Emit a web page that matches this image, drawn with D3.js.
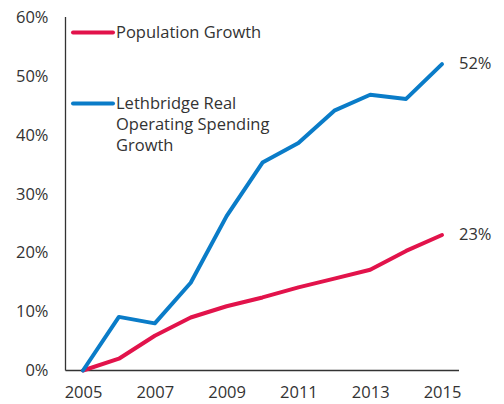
<!DOCTYPE html>
<html>
<head>
<meta charset="utf-8">
<script src="https://cdn.jsdelivr.net/npm/d3@7"></script>
<style>
  html, body { margin: 0; padding: 0; background: #fff; }
  text { font-family: "Open Sans", "Noto Sans", sans-serif; fill: #333; }
</style>
</head>
<body>
<svg id="chart" width="504" height="404"></svg>
<script>
// Cumulative growth since 2005, in percent
const years = [2005, 2006, 2007, 2008, 2009, 2010, 2011, 2012, 2013, 2014, 2015];
const populationGrowth = [0, 2.0, 5.9, 9.0, 10.9, 12.4, 14.1, 15.6, 17.1, 20.3, 23];
const spendingGrowth = [0, 9.1, 8.0, 14.9, 26.2, 35.3, 38.6, 44.1, 46.8, 46.1, 52];
const yTicks = [0, 10, 20, 30, 40, 50, 60];
const xTicks = [2005, 2007, 2009, 2011, 2013, 2015];
const seriesNames = ["Population Growth", ["Lethbridge Real", "Operating Spending", "Growth"]];
const colors = ["#e2134b", "#0a7cc8"];

const svg = d3.select("#chart");
const x = d3.scaleLinear().domain([2005, 2015]).range([83, 442]);
const y = d3.scaleLinear().domain([0, 60]).range([370.5, 17]);
const fontSize = "16.5px";

// Axes: plain lines with text labels, no tick marks
const yAxis = svg.append("g").attr("transform", "translate(65.5,0)")
  .call(d3.axisLeft(y).tickValues(yTicks).tickSize(0).tickPadding(17).tickFormat(d => d + "%"));
const xAxis = svg.append("g").attr("transform", "translate(0,370.5)")
  .call(d3.axisBottom(x).tickValues(xTicks).tickSize(0).tickPadding(16).tickFormat(d3.format("d")));
yAxis.select(".domain").attr("d", `M0,${y(60)}V${y(0)}`);
xAxis.select(".domain").attr("d", `M65.5,0H459`);
[yAxis, xAxis].forEach(a => {
  a.select(".domain").attr("stroke", "#333").attr("stroke-width", 1.3);
  a.selectAll("text").style("font-size", fontSize).style("font-family", "'Open Sans', sans-serif").attr("fill", "#333");
});

const line = d3.line().x((d, i) => x(years[i])).y(d => y(d));

[populationGrowth, spendingGrowth].forEach((vals, k) => {
  svg.append("path")
    .datum(vals)
    .attr("d", line)
    .attr("fill", "none")
    .attr("stroke", colors[k])
    .attr("stroke-width", 4)
    .attr("stroke-linejoin", "round")
    .attr("stroke-linecap", "round");
  // end-of-line value label
  const last = vals[vals.length - 1];
  svg.append("text")
    .attr("x", x(years[years.length - 1]) + 17)
    .attr("y", y(last) + 5)
    .style("font-size", fontSize)
    .text(Math.round(last) + "%");
});

// Legend
const legend = svg.append("g");
const legendRows = [32.5, 103.5];
seriesNames.forEach((name, k) => {
  legend.append("line")
    .attr("x1", 73).attr("x2", 113)
    .attr("y1", legendRows[k]).attr("y2", legendRows[k])
    .attr("stroke", colors[k]).attr("stroke-width", 4)
    .attr("stroke-linecap", "round");
  const lines = Array.isArray(name) ? name : [name];
  const t = legend.append("text")
    .attr("x", 116).attr("y", legendRows[k] + 5.5)
    .style("font-size", fontSize);
  lines.forEach((s, i) => {
    t.append("tspan").attr("x", 116).attr("dy", i === 0 ? 0 : 21).text(s);
  });
});
</script>
</body>
</html>
